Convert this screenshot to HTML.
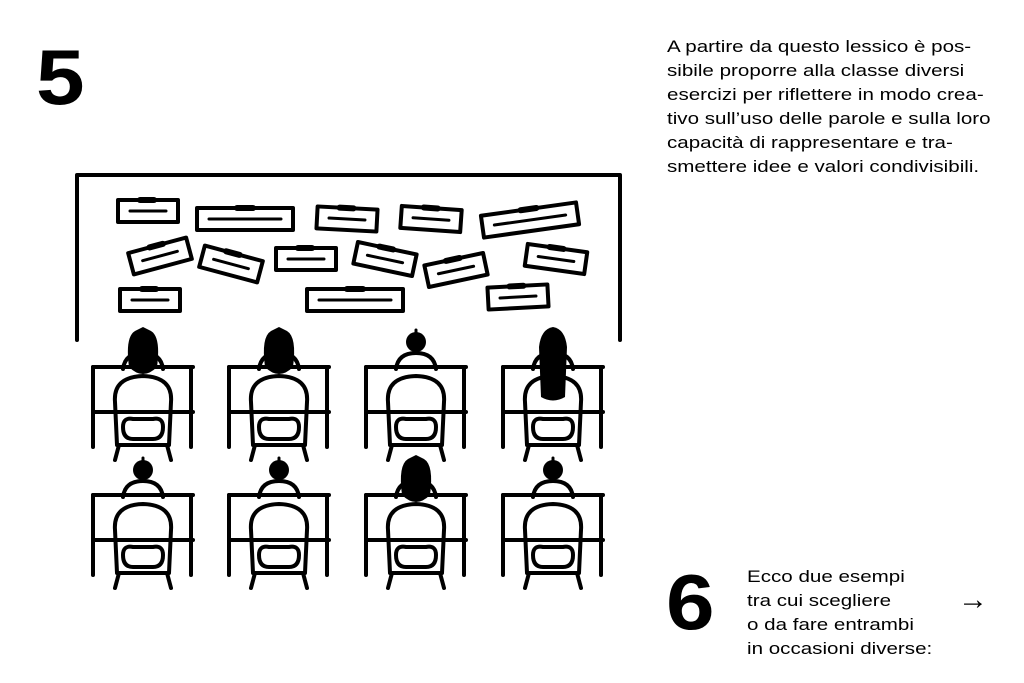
<!DOCTYPE html>
<html><head><meta charset="utf-8"><style>
body{margin:0;width:1024px;height:683px;background:#fff;position:relative;overflow:hidden;font-family:"Liberation Sans",sans-serif;color:#000}
.n{position:absolute;font-weight:bold;font-size:78px;line-height:1;transform:scaleX(1.12);transform-origin:left top}
.p{position:absolute;font-size:17px;line-height:24px;white-space:nowrap;transform:scaleX(1.21);transform-origin:left top}
</style></head><body>
<div class="n" style="left:36px;top:38px">5</div>
<div class="p" style="left:667px;top:35px">A partire da questo lessico è pos-<br>sibile proporre alla classe diversi<br>esercizi per riflettere in modo crea-<br>tivo sull’uso delle parole e sulla loro<br>capacità di rappresentare e tra-<br>smettere idee e valori condivisibili.</div>
<div class="n" style="left:666px;top:563px">6</div>
<div class="p" style="left:747px;top:565px">Ecco due esempi<br>tra cui scegliere<br>o da fare entrambi<br>in occasioni diverse:</div>
<div class="p" style="left:958px;top:588px;font-size:30px;transform:none">→</div>
<svg width="1024" height="683" style="position:absolute;left:0;top:0" fill="none" stroke="#000" stroke-width="4" stroke-linecap="round" stroke-linejoin="round">
<defs>
<g id="lbl"><rect x="-30" y="-11" width="60" height="22"/><line x1="-18" y1="0" x2="18" y2="0" stroke-width="3"/><line x1="-8" y1="-11" x2="6" y2="-11" stroke-width="6"/></g>
<g id="lblw"><rect x="-48" y="-11" width="96" height="22"/><line x1="-36" y1="0" x2="36" y2="0" stroke-width="3"/><line x1="-8" y1="-11" x2="8" y2="-11" stroke-width="6"/></g>
<g id="unit">
<line x1="0" y1="0" x2="100" y2="0"/><line x1="0" y1="0" x2="0" y2="80"/><line x1="98" y1="0" x2="98" y2="80"/><line x1="0" y1="45" x2="100" y2="45"/>
<path d="M30 2 Q32 -14 50 -14 Q68 -14 70 2"/>
<path d="M24 78 L22 35 Q20 10 50 9 Q80 10 78 35 L76 78"/>
<path d="M30 60 Q30 50 40 52 L60 52 Q70 50 70 60 Q70 72 60 72 L40 72 Q30 72 30 60Z"/>
<path d="M26 78 L22 93 M74 78 L78 93 M26 78 L74 78"/>
</g>
<g id="hs"><circle cx="50" cy="-25" r="10" fill="#000" stroke="none"/><line x1="50" y1="-37" x2="50" y2="-33" stroke-width="3"/></g>
<g id="hl"><path d="M36 0 Q32 -30 42 -36 L50 -40 L58 -36 Q68 -30 64 0 Q50 14 36 0Z" fill="#000" stroke="none"/></g>
<g id="hx"><path d="M38 30 L36 -20 Q38 -38 50 -40 Q62 -38 64 -20 L62 30 Q50 37 38 30Z" fill="#000" stroke="none"/></g>
</defs>
<path d="M77 340 L77 175 L620 175 L620 340"/>
<use href="#lbl" transform="translate(148,211)"/>
<use href="#lblw" transform="translate(245,219)"/>
<use href="#lbl" transform="translate(347,219) rotate(3)"/>
<use href="#lbl" transform="translate(431,219) rotate(4)"/>
<use href="#lblw" transform="translate(530,220) rotate(-8)"/>
<use href="#lbl" transform="translate(160,256) rotate(-15)"/>
<use href="#lbl" transform="translate(231,264) rotate(15)"/>
<use href="#lbl" transform="translate(306,259)"/>
<use href="#lbl" transform="translate(385,259) rotate(12)"/>
<use href="#lbl" transform="translate(456,270) rotate(-12)"/>
<use href="#lbl" transform="translate(556,259) rotate(8)"/>
<use href="#lbl" transform="translate(150,300)"/>
<use href="#lblw" transform="translate(355,300)"/>
<use href="#lbl" transform="translate(518,297) rotate(-3)"/>
<g transform="translate(93,367)"><use href="#unit"/><use href="#hl"/></g>
<g transform="translate(229,367)"><use href="#unit"/><use href="#hl"/></g>
<g transform="translate(366,367)"><use href="#unit"/><use href="#hs"/></g>
<g transform="translate(503,367)"><use href="#unit"/><use href="#hx"/></g>
<g transform="translate(93,495)"><use href="#unit"/><use href="#hs"/></g>
<g transform="translate(229,495)"><use href="#unit"/><use href="#hs"/></g>
<g transform="translate(366,495)"><use href="#unit"/><use href="#hl"/></g>
<g transform="translate(503,495)"><use href="#unit"/><use href="#hs"/></g>
</svg>
</body></html>
